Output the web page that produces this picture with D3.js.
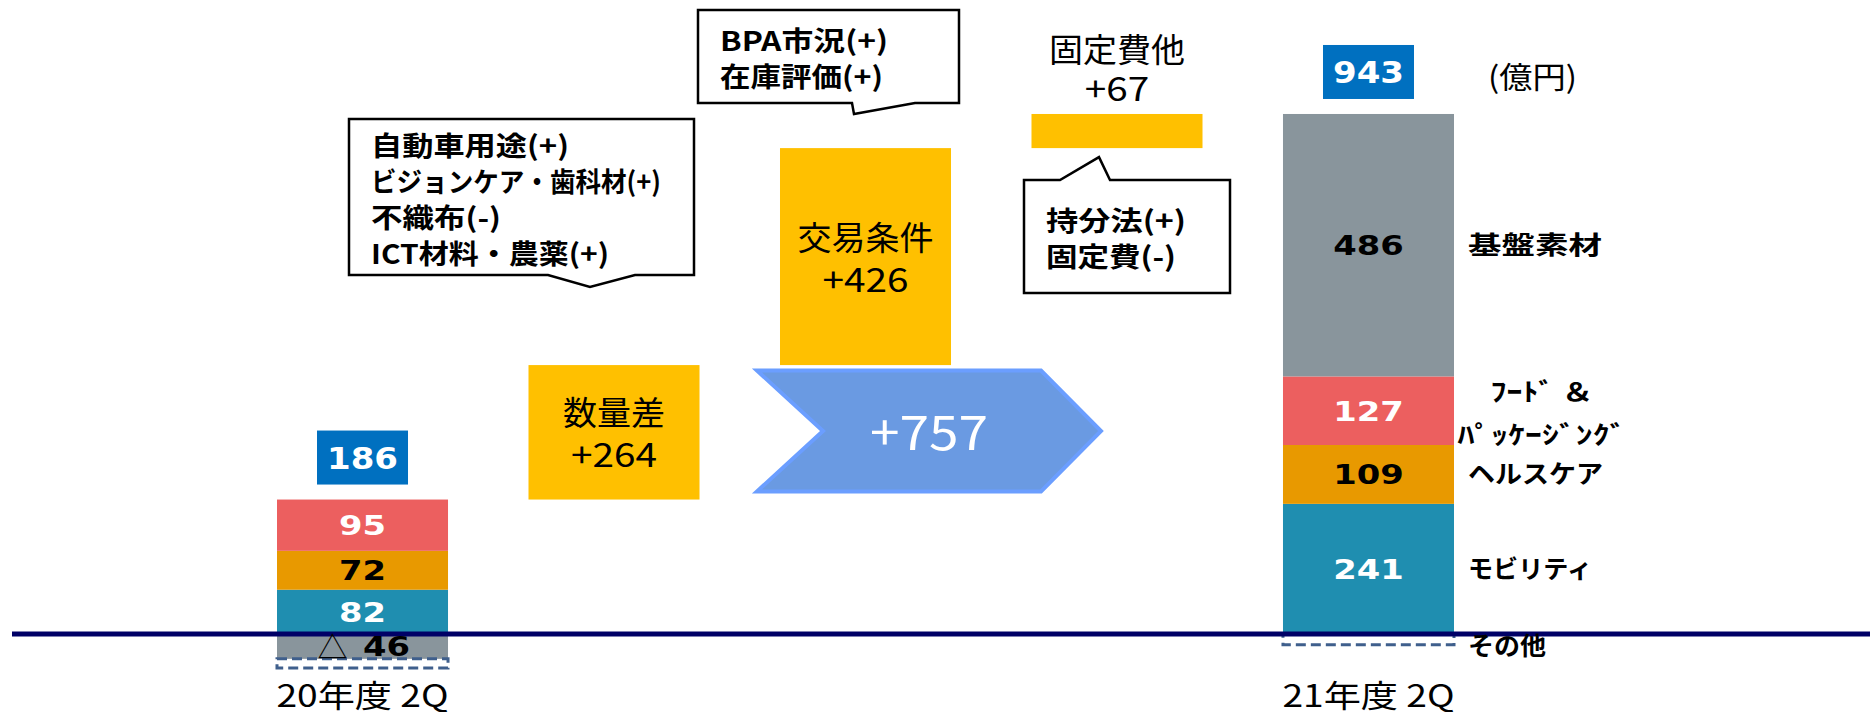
<!DOCTYPE html>
<html>
<head>
<meta charset="utf-8">
<script src="https://cdn.jsdelivr.net/npm/d3@7"></script>
<style>
  body { margin: 0; background: #fff; }
  svg { display: block; }
  text { font-family: "Noto Sans CJK JP", "Noto Sans", sans-serif; }
  .num { font-family: "DejaVu Sans", Verdana, sans-serif; font-weight: bold; }
</style>
</head>
<body>
<div id="chart"></div>
<script>
// segments, stacked from the baseline upward
const segments = ["モビリティ", "ヘルスケア", "フード＆パッケージング", "基盤素材", "その他"];
const segmentLabels = [["モビリティ"], ["ヘルスケア"], ["ﾌｰﾄﾞ ＆", "ﾊﾟｯｹｰｼﾞﾝｸﾞ"], ["基盤素材"], ["その他"]];
const periods = ["20年度 2Q", "21年度 2Q"];
const fy20 = [82, 72, 95, -46, -17];
const fy21 = [241, 109, 127, 486, -20];
const totals = [186, 943];

const steps = ["数量差", "交易条件", "固定費他"];
const stepValues = [264, 426, 67];
const change = 757;

const notes = [
  ["自動車用途(+)", "ビジョンケア・歯科材(+)", "不織布(-)", "ICT材料・農薬(+)"],
  ["BPA市況(+)", "在庫評価(+)"],
  ["持分法(+)", "固定費(-)"]
];
const unit = "(億円)";

// text widths of the original (stretched glyphs)
const noteWidths = [[198, 290, 130, 238], [168, 163], [140, 130]];
const legendWidths = [[124], [135], [103, 169], [134], [78]];
const periodWidth = 172;

let width = 1870,
  height = 712;

let svg = d3.select("#chart")
  .append("svg")
  .attr("width", width)
  .attr("height", height);

let x = d3.scaleBand()
  .domain([periods[0], ...steps, periods[1]])
  .range([277, 1454])
  .paddingInner(0.32);

let y = d3.scaleLinear()
  .domain([0, 1000])
  .range([634, 94]);

let colors = d3.scaleOrdinal()
  .domain(segments)
  .range(["#1F8EB0", "#E89900", "#EC5F5F", "#89959C", "none"]);

let labelColors = d3.scaleOrdinal()
  .domain(segments)
  .range(["#fff", "#000", "#fff", "#000", "#000"]);

function fit(sel, w) {
  return sel.attr("textLength", w).attr("lengthAdjust", "spacingAndGlyphs");
}

// stacked bars
let rows = periods.map((p, i) => {
  let row = { period: p };
  segments.forEach((s, j) => row[s] = [fy20, fy21][i][j]);
  return row;
});
let series = d3.stack().keys(segments).offset(d3.stackOffsetDiverging)(rows);

let bars = svg.append("g");
series.forEach(s => {
  bars.selectAll(null)
    .data(s)
    .join("rect")
    .attr("x", d => x(d.data.period))
    .attr("y", d => y(d[1]))
    .attr("width", x.bandwidth())
    .attr("height", d => y(d[0]) - y(d[1]))
    .attr("fill", colors(s.key))
    .attr("stroke", s.key === "その他" ? "#3F5F8C" : null)
    .attr("stroke-width", 3)
    .attr("stroke-dasharray", "10,5");
});

// baseline
svg.append("line")
  .attr("x1", 12)
  .attr("x2", width)
  .attr("y1", y(0))
  .attr("y2", y(0))
  .attr("stroke", "#000066")
  .attr("stroke-width", 5);

// segment values
series.filter(s => s.key !== "その他").forEach(s => {
  s.forEach(d => {
    let v = d.data[s.key];
    let cx = x(d.data.period) + x.bandwidth() / 2;
    let cy = (y(d[0]) + y(d[1])) / 2;
    let t = svg.append("text")
      .attr("class", "num")
      .attr("x", v < 0 ? cx + 24 : cx)
      .attr("y", cy + 10)
      .attr("text-anchor", "middle")
      .attr("font-size", 27)
      .attr("fill", labelColors(s.key))
      .text(Math.abs(v));
    fit(t, String(Math.abs(v)).length * 23.5);
    if (v < 0) {
      svg.append("text")
        .attr("x", cx - 30)
        .attr("y", cy + 12)
        .attr("text-anchor", "middle")
        .attr("font-size", 30)
        .attr("fill", "#000")
        .text("△");
    }
  });
});

// totals
let posTop = rows.map(r => d3.sum(segments, s => Math.max(0, r[s])));
periods.forEach((p, i) => {
  let cx = x(p) + x.bandwidth() / 2;
  let top = y(posTop[i]) - 15 - 54;
  svg.append("rect")
    .attr("x", cx - 45.5)
    .attr("y", top)
    .attr("width", 91)
    .attr("height", 54)
    .attr("fill", "#0070C0");
  fit(svg.append("text")
    .attr("class", "num")
    .attr("x", cx)
    .attr("y", top + 38)
    .attr("text-anchor", "middle")
    .attr("font-size", 30)
    .attr("fill", "#fff")
    .text(totals[i]), 71);

  fit(svg.append("text")
    .attr("x", cx)
    .attr("y", 707)
    .attr("text-anchor", "middle")
    .attr("font-size", 31)
    .attr("fill", "#000")
    .text(p), periodWidth);

  if (i === 1) {
    fit(svg.append("text")
      .attr("x", x(p) + x.bandwidth() + 34)
      .attr("y", top + 43)
      .attr("font-size", 30)
      .attr("fill", "#000")
      .text(unit), 89);
  }
});

// bridge steps
let cum = d3.cumsum([totals[0], ...stepValues]);
let yb = d3.scaleLinear()
  .domain([totals[0], totals[1]])
  .range([y(posTop[0]), y(posTop[1])]);

let stepBoxes = steps.map((s, i) => ({
  name: s,
  value: stepValues[i],
  top: yb(cum[i + 1]),
  bottom: yb(cum[i])
}));

svg.append("g")
  .selectAll("rect")
  .data(stepBoxes)
  .join("rect")
  .attr("x", d => x(d.name))
  .attr("y", d => d.top)
  .attr("width", x.bandwidth())
  .attr("height", d => d.bottom - d.top)
  .attr("fill", "#FFC000");

stepBoxes.forEach(d => {
  let cx = x(d.name) + x.bandwidth() / 2;
  let inside = d.bottom - d.top > 90;
  let b1 = inside ? (d.top + d.bottom) / 2 - 7 : d.top - 52;
  let nameW = d.name.length * 34;
  fit(svg.append("text")
    .attr("x", cx)
    .attr("y", b1)
    .attr("text-anchor", "middle")
    .attr("font-size", 33)
    .attr("fill", "#000")
    .text(d.name), nameW);
  let vs = "+" + d.value;
  fit(svg.append("text")
    .attr("x", cx)
    .attr("y", b1 + (inside ? 42 : 39))
    .attr("text-anchor", "middle")
    .attr("font-size", 33)
    .attr("fill", "#000")
    .text(vs), vs.length * 21.5);
});

// total change chevron
let cl = x(steps[1]) - 23,
  cr = cl + 344,
  cm = 431,
  ch = 60.5;
svg.append("path")
  .attr("d", `M${cl},${cm - ch}H${cr - 60}L${cr},${cm}L${cr - 60},${cm + ch}H${cl}L${cl + 66},${cm}Z`)
  .attr("fill", "#6A9AE2")
  .attr("stroke", "#6B9EFF")
  .attr("stroke-width", 4);
fit(svg.append("text")
  .attr("x", (cl + cr) / 2)
  .attr("y", cm + 19)
  .attr("text-anchor", "middle")
  .attr("font-size", 48)
  .attr("fill", "#fff")
  .text("+" + change), 118);

// callouts
let fixedBottom = stepBoxes[2].bottom;
let callouts = [
  { x0: 349, y0: 119, x1: 694, y1: 275, side: "bottom", a: 548, b: 635, tx: 590, ty: 287 },
  { x0: 698, y0: 10, x1: 959, y1: 103, side: "bottom", a: 852, b: 915, tx: 854, ty: 114 },
  { x0: 1024, y0: fixedBottom + 32, x1: 1230, y1: fixedBottom + 145, side: "top", a: 1060, b: 1110, tx: 1099, ty: fixedBottom + 9 }
];

function calloutPath(c) {
  if (c.side === "bottom") {
    return `M${c.x0},${c.y0}H${c.x1}V${c.y1}H${c.b}L${c.tx},${c.ty}L${c.a},${c.y1}H${c.x0}Z`;
  }
  return `M${c.x0},${c.y0}H${c.a}L${c.tx},${c.ty}L${c.b},${c.y0}H${c.x1}V${c.y1}H${c.x0}Z`;
}

callouts.forEach((c, i) => {
  svg.append("path")
    .attr("d", calloutPath(c))
    .attr("fill", "#fff")
    .attr("stroke", "#000")
    .attr("stroke-width", 2.5)
    .attr("stroke-linejoin", "miter");
  let center = (c.y0 + c.y1) / 2;
  let b0 = center + 12.5 - 18 * (notes[i].length - 1);
  notes[i].forEach((line, j) => {
    fit(svg.append("text")
      .attr("x", c.x0 + 22)
      .attr("y", b0 + 36 * j)
      .attr("font-size", 27)
      .attr("font-weight", "bold")
      .attr("fill", "#000")
      .text(line), noteWidths[i][j]);
  });
});

// segment names beside the right bar
let rightX = x(periods[1]) + x.bandwidth();
series.forEach((s, k) => {
  let d = s[1];
  let cy = (y(d[0]) + y(d[1])) / 2;
  let lines = segmentLabels[k];
  lines.forEach((line, j) => {
    let two = lines.length > 1;
    let by = two ? cy - 10 + 43 * j : (s.key === "その他" ? cy + 16 : cy + 9);
    fit(svg.append("text")
      .attr("x", two ? rightX + 88 : rightX + 14)
      .attr("y", by)
      .attr("text-anchor", two ? "middle" : "start")
      .attr("font-size", 25)
      .attr("font-weight", "bold")
      .attr("fill", "#000")
      .text(line), legendWidths[k][j]);
  });
});
</script>
</body>
</html>
